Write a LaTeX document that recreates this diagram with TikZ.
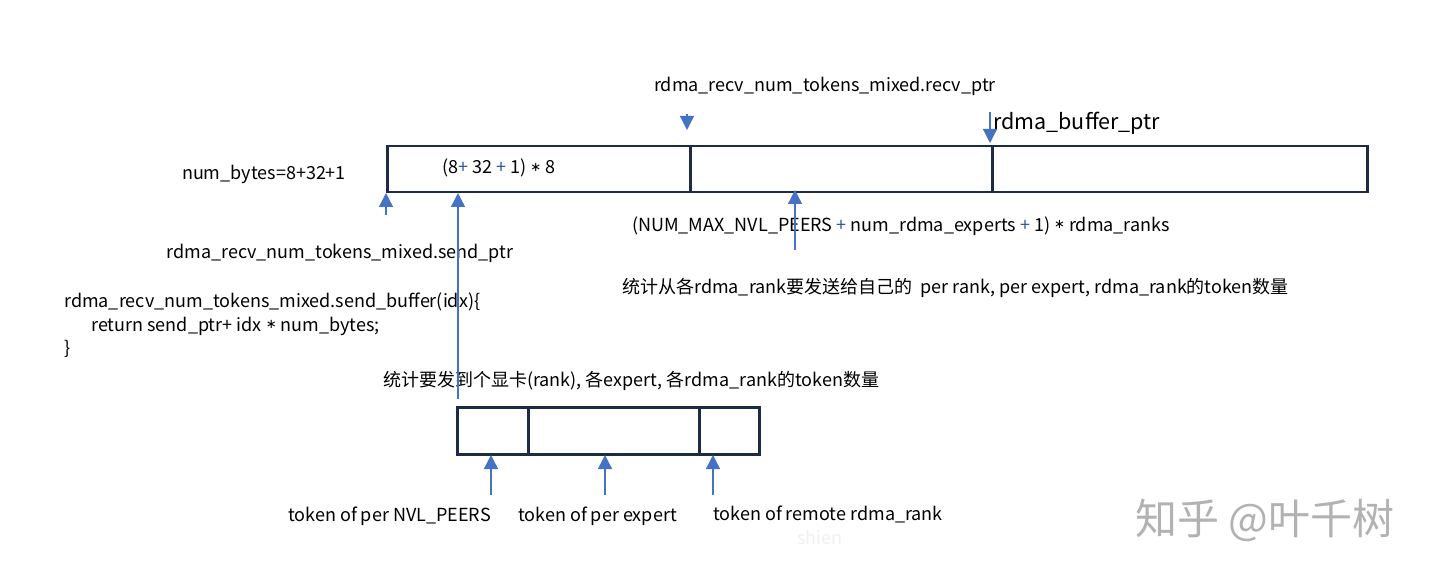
\documentclass[tikz,border=0pt]{standalone}
\usepackage{fontspec}
\setmainfont{Noto Sans CJK SC}
\newfontfamily\symfont{DejaVu Sans}
\usetikzlibrary{arrows.meta}
\definecolor{boxline}{HTML}{1F2A44}
\definecolor{arrblue}{HTML}{4472C4}
\definecolor{plusblue}{HTML}{2F52A0}
\newcommand{\bplus}{\textcolor{plusblue}{+}}
\newcommand{\mystar}{\raisebox{0.25ex}{\symfont\fontsize{13}{14}\selectfont ∗}}
\begin{document}
\begin{tikzpicture}[x=1pt,y=-1pt,
  cell/.style={draw=boxline,line width=2.5pt,rectangle,inner sep=0pt,anchor=north west},
  arr/.style={draw=arrblue,line width=1.3pt,-{Triangle[width=14pt,length=14pt]},arrblue},
  lbl/.style={inner sep=0pt,anchor=west,font=\fontsize{18}{21}\selectfont},
  wm/.style={inner sep=0pt,anchor=west,text=black!30,font=\fontsize{42}{46}\selectfont}]
\useasboundingbox (0,0) rectangle (1440,580);
% big buffer
\node[cell,minimum width=303pt,minimum height=46pt] (b1) at (386,145) {};
\node[cell,minimum width=302pt,minimum height=46pt] (b2) at (689,145) {};
\node[cell,minimum width=375pt,minimum height=46pt] (b3) at (991,145) {};
% small buffer
\node[cell,minimum width=71pt,minimum height=47pt] (s1) at (456,406) {};
\node[cell,minimum width=171pt,minimum height=47pt] (s2) at (527,406) {};
\node[cell,minimum width=60pt,minimum height=47pt] (s3) at (698,406) {};
% texts
\node[lbl,anchor=center] (trecv) at (825,86) {rdma\_recv\_num\_tokens\_mixed.recv\_ptr};
\node[lbl,anchor=west,font=\fontsize{21.5}{24}\selectfont] (tbuf) at (993,123) {rdma\_buffer\_ptr};
\node[lbl,anchor=center] (tnb) at (264,174) {num\_bytes=8+32+1};
\node[lbl] (tin) at (442,168) {(8\bplus{} 32 \bplus{} 1) \mystar{} 8};
\node[lbl] (tnum) at (632,226) {(NUM\_MAX\_NVL\_PEERS \bplus{} num\_rdma\_experts \bplus{} 1) \mystar{} rdma\_ranks};
\node[lbl] (tcn1) at (622,288) {统计从各rdma\_rank要发送给自己的~~per rank, per expert, rdma\_rank的token数量};
\node[lbl,anchor=center] (tsend) at (340,253) {rdma\_recv\_num\_tokens\_mixed.send\_ptr};
\node[lbl] (tc1) at (64,302) {rdma\_recv\_num\_tokens\_mixed.send\_buffer(idx)\{};
\node[lbl] (tc2) at (91,326) {return send\_ptr+ idx \mystar{} num\_bytes;};
\node[lbl] (tc3) at (64,349) {\}};
\node[lbl] (tcn2) at (383,381) {统计要发到个显卡(rank), 各expert, 各rdma\_rank的token数量};
\node[lbl] (tt1) at (288,516) {token of per NVL\_PEERS};
\node[lbl] (tt2) at (518,516) {token of per expert};
\node[lbl] (tt3) at (713,514) {token of remote rdma\_rank};
\node[lbl,text=black!6] (tsh) at (797,537) {shien};
\node[wm] (twm) at (1135,520) {知乎 @叶千树};
% arrow endpoints
\coordinate (p1s) at (687,114); \coordinate (p1e) at (687,130);
\coordinate (p2s) at (990,112); \coordinate (p2e) at (990,143);
\coordinate (p3s) at (386,215); \coordinate (p3e) at (386,193);
\coordinate (p4s) at (458,399); \coordinate (p4e) at (458,193);
\coordinate (p5s) at (795,250); \coordinate (p5e) at (795,190);
\coordinate (p6s) at (491,495); \coordinate (p6e) at (491,455);
\coordinate (p7s) at (605,495); \coordinate (p7e) at (605,455);
\coordinate (p8s) at (713,495); \coordinate (p8e) at (713,455);
\foreach \i in {1,...,8} {\draw[arr] (p\i s) -- (p\i e);}
\end{tikzpicture}
\end{document}
